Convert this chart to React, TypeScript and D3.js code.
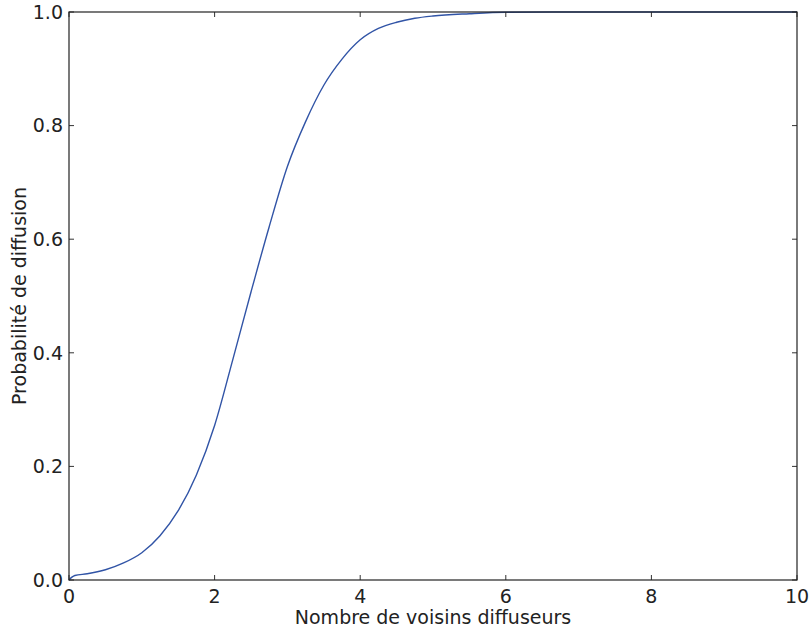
import React from "react";
import * as d3 from "d3";

const xValues = [0, 0.04, 0.08, 0.25, 0.5, 0.75, 1.0, 1.25, 1.5, 1.75, 2.0, 2.25, 2.5, 2.75, 3.0, 3.25, 3.5, 3.75, 4.0, 4.25, 4.5, 4.75, 5.0, 5.5, 6.0, 7.0, 8.0, 9.0, 10.0];
const yValues = [0, 0.005, 0.008, 0.011, 0.018, 0.03, 0.048, 0.078, 0.122, 0.185, 0.272, 0.388, 0.507, 0.622, 0.728, 0.807, 0.871, 0.917, 0.951, 0.971, 0.982, 0.989, 0.993, 0.997, 0.9995, 1.0, 1.0, 1.0, 1.0];
const xTicks = [0, 2, 4, 6, 8, 10];
const yTicks = [0, 0.2, 0.4, 0.6, 0.8, 1.0];
const xLabel = "Nombre de voisins diffuseurs";
const yLabel = "Probabilité de diffusion";

const W = 812;
const H = 629;
const left = 69;
const right = 797;
const top = 12;
const bottom = 580;

export default function App() {
  const x = d3.scaleLinear().domain([0, 10]).range([left, right]);
  const y = d3.scaleLinear().domain([0, 1]).range([bottom, top]);
  const pts: [number, number][] = xValues.map((v, i) => [v, yValues[i]]);
  const line = d3
    .line<[number, number]>()
    .x((d) => x(d[0]))
    .y((d) => y(d[1]))
    .curve(d3.curveMonotoneX);
  const font = "'DejaVu Sans', sans-serif";
  const tl = 5;
  const fs = 19;
  return (
    <svg
      width={W}
      height={H}
      style={{ position: "fixed", left: 0, top: 0, background: "#fff" }}
      fontFamily={font}
    >
      <rect x={0} y={0} width={W} height={H} fill="#fff" />
      <path d={line(pts) || ""} fill="none" stroke="#3154a6" strokeWidth={1.4} />
      {xTicks.map((t) => (
        <g key={"x" + t}>
          <line x1={x(t)} x2={x(t)} y1={bottom} y2={bottom - tl} stroke="#333" strokeWidth={1} />
          <line x1={x(t)} x2={x(t)} y1={top} y2={top + tl} stroke="#333" strokeWidth={1} />
          <text x={x(t)} y={603} textAnchor="middle" fontSize={fs} fill="#222">
            {t}
          </text>
        </g>
      ))}
      {yTicks.map((t) => (
        <g key={"y" + t}>
          <line x1={left} x2={left + tl} y1={y(t)} y2={y(t)} stroke="#333" strokeWidth={1} />
          <line x1={right} x2={right - tl} y1={y(t)} y2={y(t)} stroke="#333" strokeWidth={1} />
          <text x={63} y={y(t)} dy="0.36em" textAnchor="end" fontSize={fs} fill="#222">
            {t.toFixed(1)}
          </text>
        </g>
      ))}
      <rect
        x={left}
        y={top}
        width={right - left}
        height={bottom - top}
        fill="none"
        stroke="#222"
        strokeWidth={1.2}
      />
      <text x={(left + right) / 2} y={624} textAnchor="middle" fontSize={fs} fill="#222">
        {xLabel}
      </text>
      <text
        transform={`translate(26, ${(top + bottom) / 2}) rotate(-90)`}
        textAnchor="middle"
        fontSize={fs}
        fill="#222"
      >
        {yLabel}
      </text>
    </svg>
  );
}
